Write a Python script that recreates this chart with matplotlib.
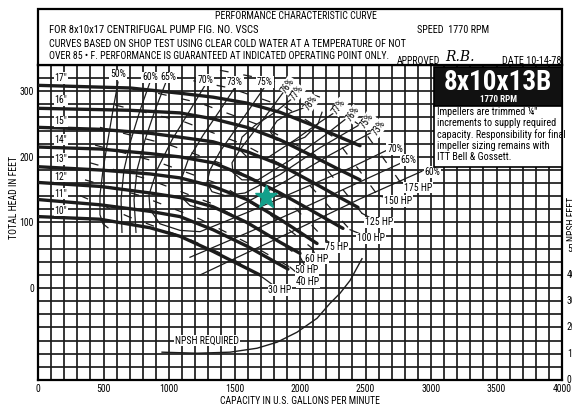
import matplotlib
matplotlib.use("Agg")
import matplotlib.pyplot as plt
from matplotlib import font_manager as fm
from matplotlib.patches import Rectangle

names = {f.name for f in fm.fontManager.ttflist}
cands = ['Liberation Sans Narrow', 'Roboto Condensed', 'Open Sans Condensed', 'DejaVu Sans']
FONT = [c for c in cands if c in names][0]
plt.rcParams['font.family'] = [FONT, 'DejaVu Sans']

# ---------------- data ----------------
x_ticks = [0, 500, 1000, 1500, 2000, 2500, 3000, 3500, 4000]
y_ticks = [0, 100, 200, 300]
npsh_ticks = [0, 10, 20, 30, 40, 50]

imp_labels = ['17"', '16"', '15"', '14"', '13"', '12"', '11"', '10"']
imp_label_h = [320, 286, 254, 226, 197, 170, 144, 118]
q17 = [0, 702, 1084, 1336, 1595, 1847, 2099, 2305, 2458]
h17 = [309, 305, 297, 291, 282, 268, 248, 230, 217]
q16 = [0, 702, 1084, 1336, 1595, 1847, 2099, 2305, 2458]
h16 = [274, 271, 267, 258, 245, 226, 201, 180, 165]
q15 = [0, 473, 855, 1084, 1336, 1595, 1847, 2099, 2305, 2443]
h15 = [245, 242, 236, 230, 223, 208, 188, 161, 138, 123]
q14 = [0, 473, 855, 1084, 1336, 1595, 1847, 2099, 2328]
h14 = [215, 212, 205, 200, 191, 170, 145, 117, 91]
q13 = [0, 473, 855, 1084, 1336, 1595, 1847, 2130]
h13 = [185, 180, 174, 168, 155, 135, 105, 68]
q12 = [0, 473, 855, 1084, 1336, 1595, 1847, 2000]
h12 = [161, 155, 145, 138, 124, 100, 70, 53]
q11 = [0, 473, 855, 1084, 1336, 1595, 1908]
h11 = [135, 127, 117, 109, 89, 64, 29]
q10 = [0, 473, 855, 1084, 1336, 1695]
h10 = [109, 105, 92, 79, 56, 20]
imp_q = [q17, q16, q15, q14, q13, q12, q11, q10]
imp_h = [h17, h16, h15, h14, h13, h12, h11, h10]

# efficiency contours: lists of (Q, H) branches
eff50 = [([611, 572, 534, 496, 473, 473, 496, 534], [314, 271, 226, 180, 142, 112, 98, 92])]
eff60 = [([855, 779, 710, 656, 634, 641], [314, 271, 226, 180, 135, 85]),
         ([1237, 1618, 2000, 2458, 2930], [20, 56, 92, 136, 178])]
eff65 = [([977, 893, 817, 756, 733, 748], [314, 271, 226, 180, 135, 85]),
         ([1160, 1618, 2000, 2382, 2764], [47, 86, 120, 155, 190])]
eff70 = [([1275, 1160, 1023, 908, 847, 855, 931, 1084, 1237, 1618, 2000, 2382, 2672],
          [309, 271, 226, 180, 142, 120, 98, 88, 86, 117, 150, 183, 211])]
eff73 = [([1504, 1389, 1260, 1145, 1092, 1099, 1160, 1275, 1489, 1847, 2229, 2580],
          [306, 271, 233, 195, 165, 138, 126, 120, 120, 158, 203, 241])]
eff75 = [([1725, 1618, 1504, 1389, 1313, 1290, 1328, 1428, 1580, 1847, 2153, 2489],
          [305, 274, 241, 208, 180, 161, 147, 141, 145, 173, 214, 253])]
eff76 = [([1886, 1771, 1657, 1542, 1481, 1489, 1557, 1680, 1924, 2191, 2389],
          [302, 271, 241, 211, 191, 176, 165, 165, 195, 233, 264])]
eff77 = [([1954, 1809, 1657, 1557, 1534, 1595, 1748, 1962, 2153, 2290],
          [291, 268, 248, 230, 212, 200, 198, 226, 253, 271])]
eff78 = [([2061, 1924, 1825, 1771, 1817, 1924, 2038, 2137, 2168],
          [277, 267, 255, 239, 226, 221, 230, 250, 268])]
eff_curves = [eff50, eff60, eff65, eff70, eff73, eff75, eff76, eff77, eff78]

eff_text = ['50%', '60%', '65%', '70%', '73%', '75%', '76%', '77%', '78%',
            '77%', '76%', '75%', '73%', '70%', '65%', '60%']
eff_text_q = [611, 855, 992, 1275, 1504, 1733, 1909, 1977, 2084,
              2298, 2405, 2512, 2603, 2725, 2830, 3010]
eff_text_h = [326, 321, 321, 317, 314, 314, 309, 297, 282,
              276, 265, 255, 244, 212, 195, 177]
eff_text_rot = [0, 0, 0, 0, 0, 0, 55, 55, 55, 55, 55, 55, 55, 0, 0, 0]

hp_text = ['30 HP', '40 HP', '50 HP', '60 HP', '75 HP', '100 HP', '125 HP', '150 HP', '175 HP']
hp_text_q = [1847, 2061, 2054, 2130, 2283, 2542, 2603, 2748, 2901]
hp_text_h = [-3, 9, 27, 45, 62, 76, 100, 133, 153]
hp_q = [[321, 702, 1160, 1466, 1710],
        [359, 779, 1237, 1618, 1924],
        [397, 855, 1313, 1695, 2000],
        [435, 931, 1389, 1771, 2092],
        [473, 1008, 1466, 1886, 2199],
        [588, 1122, 1580, 2000, 2382],
        [740, 1237, 1695, 2115, 2473],
        [1008, 1466, 1886, 2267, 2596],
        [1389, 1771, 2153, 2458, 2764]]
hp_h = [[141, 108, 74, 47, 17],
        [165, 141, 105, 67, 32],
        [191, 165, 130, 89, 48],
        [218, 191, 158, 112, 61],
        [245, 218, 185, 138, 73],
        [279, 253, 218, 173, 89],
        [305, 282, 248, 203, 114],
        [323, 305, 276, 229, 141],
        [332, 317, 291, 248, 162]]

npsh_q = [947, 1214, 1466, 1672, 1825, 1977, 2130, 2229, 2305, 2382, 2473]
npsh_v = [10.6, 10.2, 10.6, 12.1, 14.4, 18.2, 23.5, 29.2, 33.0, 37.9, 46.2]

op_q, op_h = [1740], [139]

# ---------------- figure ----------------
W, H = 572, 404
fig = plt.figure(figsize=(W / 100, H / 100), dpi=100)
fig.patch.set_facecolor('white')
L, R, B, T = 38, 562, 380, 65
ax = fig.add_axes([L / W, 1 - B / H, (R - L) / W, (B - T) / H])
ax.set_xlim(0, 4000)
ax.set_ylim(-140, 340)
INK = '#1c1c1c'

for gx in range(0, 4001, 100):
    ax.axvline(gx, color=INK, lw=1.25, zorder=1)
for gy in range(-140, 341, 20):
    ax.axhline(gy, color=INK, lw=1.25, zorder=1)
for s in ax.spines.values():
    s.set_linewidth(1.6)

ax.set_xticks(x_ticks)
ax.set_xticklabels([str(v) for v in x_ticks], fontsize=7)
ax.set_yticks(y_ticks)
ax.set_yticklabels([str(v) for v in y_ticks], fontsize=7)
ax.tick_params(length=0, pad=3)
ax.set_xlabel('CAPACITY IN U.S. GALLONS PER MINUTE', fontsize=7, labelpad=1)
ax.set_ylabel('TOTAL HEAD IN FEET', fontsize=7)
ax.yaxis.set_label_coords(-0.036, 0.58)

box = dict(fc='white', ec='none', pad=0.5)

# impeller curves
for q, h, lab, lh in zip(imp_q, imp_h, imp_labels, imp_label_h):
    ax.plot(q, h, color=INK, lw=2.4, zorder=4, solid_capstyle='round')
    ax.text(175, lh, lab, fontsize=7, ha='center', va='center', zorder=6, bbox=box)

# efficiency contours
for curve in eff_curves:
    for q, h in curve:
        ax.plot(q, h, color=INK, lw=0.9, zorder=3)
for s, q, h, r in zip(eff_text, eff_text_q, eff_text_h, eff_text_rot):
    ax.text(q, h, s, fontsize=7, ha='center', va='center', rotation=r, zorder=6, bbox=box)

# horsepower lines
for q, h, s, lq, lh in zip(hp_q, hp_h, hp_text, hp_text_q, hp_text_h):
    ax.plot(q, h, color=INK, lw=0.9, zorder=3, dashes=(7, 12))
    ax.plot([q[-1], lq], [h[-1], lh], color=INK, lw=0.9, zorder=3)
    ax.text(lq, lh, s, fontsize=7, ha='center', va='center', zorder=6, bbox=box)

# NPSH curve (right scale: head = 4*NPSH - 140)
ax.plot(npsh_q, [v * 4 - 140 for v in npsh_v], color=INK, lw=1.0, zorder=3)
ax.text(1290, -80, 'NPSH REQUIRED', fontsize=7, ha='center', va='center', zorder=6, bbox=box)
for v in npsh_ticks:
    ax.text(1.0095, (v * 4) / 480, str(v), transform=ax.transAxes, fontsize=7,
            ha='left', va='center', clip_on=False)
ax.text(1.0095, 0.51, 'NPSH FEET', transform=ax.transAxes, fontsize=7,
        rotation=90, ha='left', va='center', clip_on=False)

ax.plot(op_q, op_h, marker='*', ms=17, color='#13a08b', mec='#13a08b', zorder=7, ls='none')

# header box
hdr = Rectangle((L / W, 1 - T / H), (R - L) / W, (T - 9) / H, transform=fig.transFigure,
                fc='white', ec='black', lw=1.6, zorder=5)
fig.patches.append(hdr)

def ft(x, y, s, **kw):
    kw.setdefault('fontsize', 7)
    fig.text(x / W, 1 - y / H, s, va='center', zorder=10, **kw)

ft(296, 16, 'PERFORMANCE CHARACTERISTIC CURVE', ha='center', fontsize=7.1)
ft(49, 30, 'FOR 8x10x17 CENTRIFUGAL PUMP FIG. NO. VSCS', ha='left', fontsize=7.7)
ft(417, 30, 'SPEED  1770 RPM', ha='left', fontsize=7.3)
ft(49, 44, 'CURVES BASED ON SHOP TEST USING CLEAR COLD WATER AT A TEMPERATURE OF NOT',
   ha='left', fontsize=7.3)
ft(49, 56, 'OVER 85 \u2022 F. PERFORMANCE IS GUARANTEED AT INDICATED OPERATING POINT ONLY.',
   ha='left', fontsize=7.1)
ft(397, 61, 'APPROVED', ha='left', fontsize=7)
ft(445, 57, 'R.B.', ha='left', style='italic', fontsize=10, family='DejaVu Serif')
ft(561, 61, 'DATE 10-14-78', ha='right', fontsize=7.3)

# model box
bx = Rectangle((434 / W, 1 - 106 / H), (R - 434) / W, 39 / H, transform=fig.transFigure,
               fc='#111111', ec='black', lw=1.2, zorder=5)
fig.patches.append(bx)
ft(498, 82, '8x10x13B', ha='center', color='white', fontsize=19.5, weight='bold')
ft(498, 99, '1770 RPM', ha='center', color='white', fontsize=6.5, weight='bold')
nb = Rectangle((434 / W, 1 - 167 / H), (R - 434) / W, 61 / H, transform=fig.transFigure,
               fc='white', ec='black', lw=1.2, zorder=5)
fig.patches.append(nb)
fig.text(437 / W, 1 - 107 / H,
         'Impellers are trimmed \u00bc"\nincrements to supply required\ncapacity. Responsibility for final\nimpeller sizing remains with\nITT Bell & Gossett.',
         fontsize=7.3, va='top', ha='left', linespacing=1.12, zorder=10)

fig.savefig('out.png', dpi=100)
